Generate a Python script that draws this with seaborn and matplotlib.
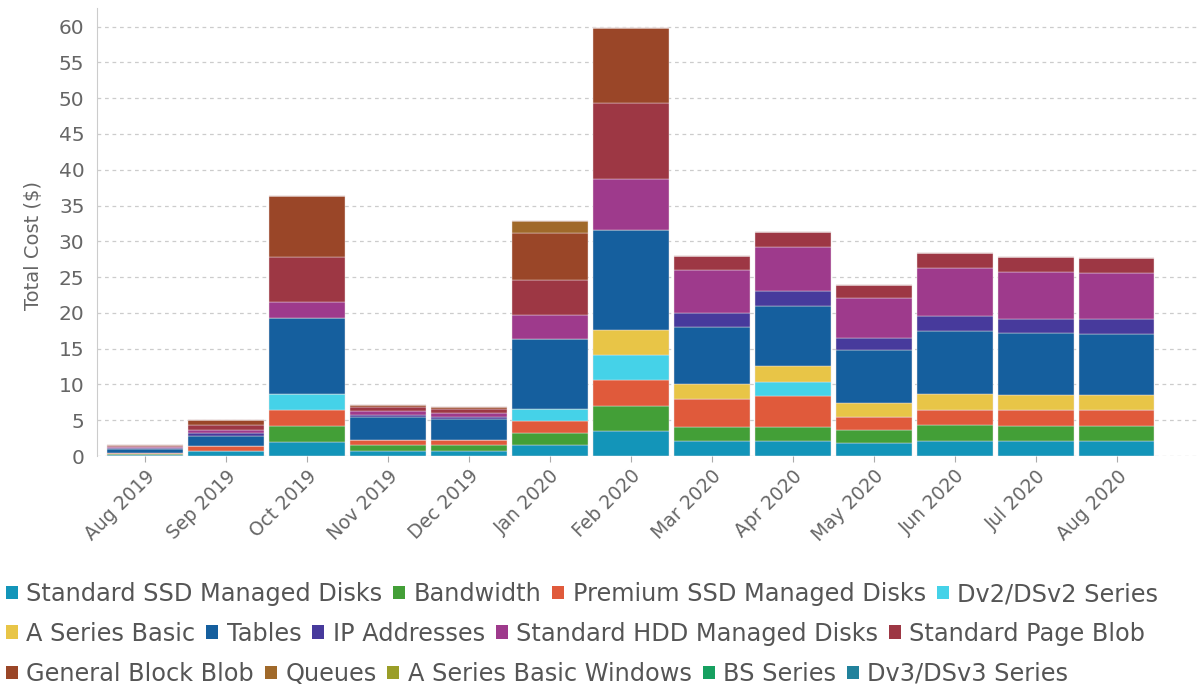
import numpy as np
import matplotlib
matplotlib.use("Agg")
import matplotlib.pyplot as plt
from matplotlib.patches import Patch
import seaborn as sns

# months on the x axis
months = ["Aug 2019", "Sep 2019", "Oct 2019", "Nov 2019", "Dec 2019", "Jan 2020",
          "Feb 2020", "Mar 2020", "Apr 2020", "May 2020", "Jun 2020", "Jul 2020",
          "Aug 2020"]

# cost per service and month
standard_ssd = [0.2, 0.7, 2.0, 0.7, 0.7, 1.55, 3.51, 2.06, 2.15, 1.87, 2.15, 2.1, 2.1]
bandwidth = [0.05, 0.0, 2.26, 0.8, 0.8, 1.73, 3.51, 1.97, 1.97, 1.78, 2.2, 2.16, 2.16]
premium_ssd = [0.2, 0.75, 2.2, 0.8, 0.8, 1.64, 3.56, 3.93, 4.21, 1.78, 2.11, 2.11, 2.11]
dv2_series = [0.0, 0.0, 2.2, 0.0, 0.0, 1.68, 3.51, 0.0, 2.02, 0.0, 0.0, 0.0, 0.0]
a_series_basic = [0.0, 0.0, 0.0, 0.0, 0.0, 0.0, 3.51, 2.11, 2.19, 1.97, 2.24, 2.2, 2.2]
tables = [0.5, 1.4, 10.58, 3.1, 2.9, 9.79, 14.04, 8.0, 8.35, 7.35, 8.76, 8.56, 8.47]
ip_addresses = [0.15, 0.3, 0.0, 0.3, 0.3, 0.0, 0.0, 1.97, 2.19, 1.78, 2.11, 2.07, 2.06]
standard_hdd = [0.15, 0.5, 2.21, 0.6, 0.5, 3.27, 7.12, 5.96, 6.09, 5.52, 6.63, 6.46, 6.42]
page_blob = [0.15, 0.7, 6.4, 0.5, 0.5, 4.92, 10.54, 2.0, 2.1, 1.87, 2.17, 2.1, 2.15]
general_block = [0.15, 0.7, 8.55, 0.3, 0.3, 6.6, 10.5, 0.0, 0.0, 0.0, 0.0, 0.0, 0.0]
queues = [0.0, 0.0, 0.0, 0.0, 0.0, 1.62, 0.0, 0.0, 0.0, 0.0, 0.0, 0.0, 0.0]
a_series_windows = [0.0] * 13
bs_series = [0.0] * 13
dv3_series = [0.0] * 13

services = ["Standard SSD Managed Disks", "Bandwidth", "Premium SSD Managed Disks",
            "Dv2/DSv2 Series", "A Series Basic", "Tables", "IP Addresses",
            "Standard HDD Managed Disks", "Standard Page Blob", "General Block Blob",
            "Queues", "A Series Basic Windows", "BS Series", "Dv3/DSv3 Series"]
values = [standard_ssd, bandwidth, premium_ssd, dv2_series, a_series_basic, tables,
          ip_addresses, standard_hdd, page_blob, general_block, queues,
          a_series_windows, bs_series, dv3_series]
colors = ["#1395b9", "#439f37", "#e05a3b", "#45d2e8", "#e8c547", "#155f9e",
          "#473a9c", "#9e3a8c", "#9d3744", "#9a4628", "#a0692a", "#9a9e28",
          "#16a060", "#21829c"]

sns.set_style("white")
plt.rcParams["font.family"] = ["DejaVu Sans"]

fig = plt.figure(figsize=(11.97, 6.86), dpi=100)
ax = fig.add_axes([97 / 1197, 1 - 456 / 686, (1197 - 97) / 1197, (456 - 8) / 686])

bottom = np.zeros(len(months))
for name, vals, col in zip(services, values, colors):
    sns.barplot(x=months, y=vals, order=months, bottom=bottom, color=col,
                width=0.93, saturation=1, edgecolor="#eee2e2", linewidth=0.3,
                ax=ax)
    bottom = bottom + np.array(vals)

ax.set_xlim(-0.593, 12.99)
ax.set_ylim(0, 62.6)
ax.set_yticks(range(0, 61, 5))
ax.yaxis.grid(True, linestyle=(0, (3, 3)), color="#cccccc", linewidth=0.9)
ax.set_axisbelow(True)
for s in ["top", "right", "bottom"]:
    ax.spines[s].set_visible(False)
ax.spines["left"].set_color("#cccccc")

ax.set_ylabel("Total Cost ($)", fontsize=14, color="#666666")
ax.yaxis.set_label_coords(-0.049, 0.47)
ax.set_xlabel("")
ax.tick_params(axis="y", labelsize=14.5, labelcolor="#666666", length=5,
               color="#cccccc", pad=4)
ax.tick_params(axis="x", labelsize=13.5, labelcolor="#666666", length=4,
               color="#aaaaaa", bottom=True)
plt.setp(ax.get_xticklabels(), rotation=45, ha="right", rotation_mode="anchor")

# legend in three rows like the original
handles = [Patch(facecolor=c, edgecolor="none") for c in colors]
rows = [(0, 4, 0.134), (4, 9, 0.076), (9, 14, 0.0175)]
for a, b, y in rows:
    fig.legend(handles[a:b], services[a:b], loc="center left",
               bbox_to_anchor=(6 / 1197, y), ncol=b - a, frameon=False,
               fontsize=17.3, handlelength=0.5, handleheight=0.5,
               handletextpad=0.35, columnspacing=0.45, borderpad=0,
               borderaxespad=0, labelcolor="#555555")

fig.savefig("out.png", dpi=100)
